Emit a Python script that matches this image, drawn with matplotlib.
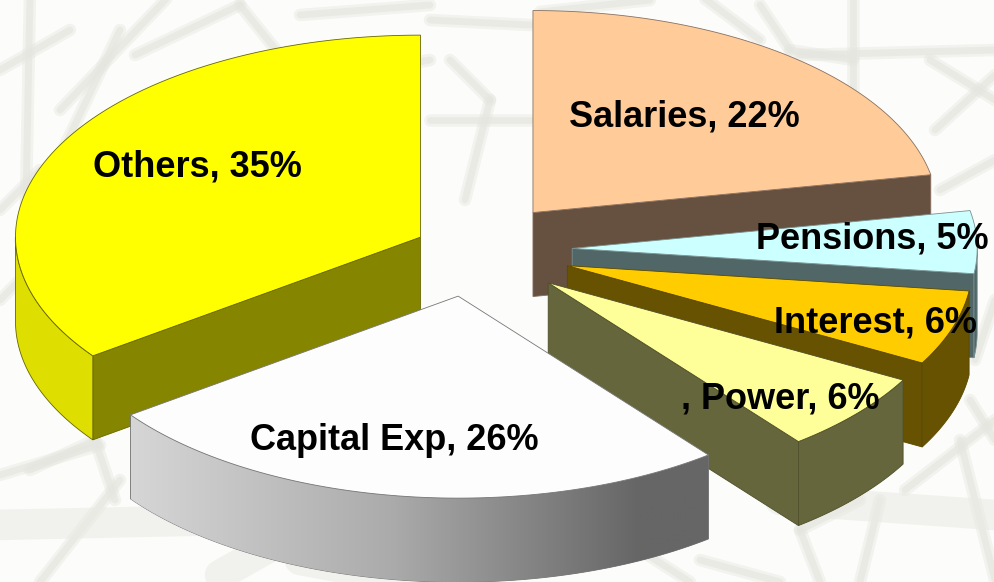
import numpy as np
import matplotlib
matplotlib.use('Agg')
import matplotlib.pyplot as plt
from matplotlib.patches import Polygon
from matplotlib.colors import LinearSegmentedColormap

# Pie shares, clockwise from 12 o'clock (labels show them rounded)
labels = ['Salaries', 'Pensions', 'Interest', ', Power', 'Capital Exp', 'Others']
values = [22, 5, 6, 6.4, 25.6, 35]
explode = [0.24, 0.25, 0.25, 0.25, 0.23, 0.14]

top_colors = ['#FFCC99', '#CCFFFF', '#FFCC00', '#FFFF99', '#FDFDFD', '#FFFF00']
side_colors = ['#665040', '#516666', '#665200', '#66663D', '#808080', '#858500']
rim_colors = ['#665040', '#516666', '#665200', '#66663D', '#808080', '#DEDE00']
edge_colors = ['#8a7060', '#7a9090', '#5a4800', '#4f4f2c', '#777777', '#666600']

# where the labels sit, in pixels
label_x = [684, 872, 876, 780, 394, 197]
label_y = [117, 239, 323, 399, 440, 167]

# pale pattern behind the chart
bg_lines = [
    ((30, -5), (24, 300)), ((60, 110), (170, -5)), ((120, 30), (20, 240)), ((135, 55), (240, 5)),
    ((240, 5), (300, 80)), ((260, 90), (430, 60)), ((300, 15), (430, 5)), ((0, 70), (70, 30)),
    ((0, 210), (40, 170)), ((0, 300), (20, 280)), ((0, 475), (100, 445)), ((95, 440), (115, 500)),
    ((30, 470), (95, 440)), ((40, 582), (120, 480)), ((430, 20), (530, 25)), ((430, 120), (530, 120)),
    ((450, 60), (490, 100)), ((490, 100), (465, 200)), ((800, 55), (995, 50)), ((853, -5), (853, 170)),
    ((930, 60), (995, 100)), ((935, 130), (995, 75)), ((940, 190), (995, 160)), ((760, 5), (790, 50)),
    ((790, 50), (853, 60)), ((650, 0), (540, 12)), ((700, -5), (760, 40)), ((975, 360), (995, 300)),
    ((970, 400), (995, 440)), ((960, 440), (995, 580)), ((905, 490), (995, 420)), ((880, 500), (860, 582)),
    ((800, 530), (860, 500)), ((820, 582), (800, 530)), ((700, 560), (780, 582)), ((640, 550), (690, 582)),
]
bg_bands = [
    ((-5, 525), (230, 520)), ((220, 575), (300, 530)), ((300, 560), (420, 582)), ((780, 500), (995, 515)),
]

cx, cy = 471, 250
rx, ry = 405, 202
depth = 84


def point(a, e, t):
    # t in degrees clockwise from the top of the ellipse
    r = np.radians(t)
    return (a + rx * np.sin(r), e - ry * np.cos(r))


def arc(a, e, t0, t1):
    ts = np.linspace(t0, t1, 80)
    return np.column_stack([a + rx * np.sin(np.radians(ts)), e - ry * np.cos(np.radians(ts))])


fig = plt.figure(figsize=(9.95, 5.82), dpi=100, facecolor='#FCFCFB')
ax = fig.add_axes([0, 0, 1, 1])
ax.set_xlim(0, 995)
ax.set_ylim(582, 0)
ax.axis('off')

# soft edges: wide faint pass, then narrower one
for p, q in bg_lines:
    ax.plot([p[0], q[0]], [p[1], q[1]], color='#E6E6E0', lw=9, alpha=0.45, zorder=1, solid_capstyle='round')
    ax.plot([p[0], q[0]], [p[1], q[1]], color='#E6E6E0', lw=5, alpha=0.6, zorder=1, solid_capstyle='round')
for p, q in bg_bands:
    ax.plot([p[0], q[0]], [p[1], q[1]], color='#EBEBE4', lw=22, alpha=0.6, zorder=1, solid_capstyle='round')

cum = np.cumsum([0] + values)
starts = cum[:-1] * 3.6
ends = cum[1:] * 3.6

# back slices first, Capital Exp goes last
order = [0, 5, 1, 2, 3, 4]
for n, i in enumerate(order):
    t0, t1 = starts[i], ends[i]
    mid = np.radians((t0 + t1) / 2)
    ax_x = cx + explode[i] * rx * np.sin(mid)
    ax_y = cy - explode[i] * rx * 0.5 * np.cos(mid)
    z = 2 + n
    apex = np.array([ax_x, ax_y])
    drop = np.array([0, depth])

    # flat cut faces
    for t, show in ((t1, t1 < 180), (t0, t0 > 180)):
        if show:
            pt = np.array(point(ax_x, ax_y, t))
            ax.add_patch(Polygon([apex, pt, pt + drop, apex + drop], fc=side_colors[i],
                                 ec=edge_colors[i], lw=0.6, zorder=z))

    # outer rim, only the front half of the ellipse shows
    r0, r1 = max(t0, 90), min(t1, 270)
    if r1 > r0:
        top = arc(ax_x, ax_y, r0, r1)
        rim = np.vstack([top, (top + drop)[::-1]])
        poly = Polygon(rim, fc=rim_colors[i], ec=edge_colors[i], lw=0.6, zorder=z)
        ax.add_patch(poly)
        if labels[i] == 'Capital Exp':
            grad = np.linspace(0, 1, 256).reshape(1, -1)
            cmap = LinearSegmentedColormap.from_list('g', [(0, '#D6D6D6'), (0.45, '#ABABAB'), (0.88, '#666666'), (1, '#666666')])
            im = ax.imshow(grad, extent=[rim[:, 0].min(), rim[:, 0].max(), rim[:, 1].max(), rim[:, 1].min()],
                           cmap=cmap, aspect='auto', zorder=z)
            im.set_clip_path(poly)
            ax.set_xlim(0, 995)
            ax.set_ylim(582, 0)

    top_face = np.vstack([apex, arc(ax_x, ax_y, t0, t1)])
    ax.add_patch(Polygon(top_face, fc=top_colors[i], ec=edge_colors[i], lw=0.6, zorder=z + 0.5))

for i in range(len(labels)):
    ax.text(label_x[i], label_y[i], f'{labels[i]}, {round(values[i])}%', ha='center', va='center',
            family='Liberation Sans', weight='bold', fontsize=26, color='black', zorder=20)

plt.savefig('out.png', dpi=100)
